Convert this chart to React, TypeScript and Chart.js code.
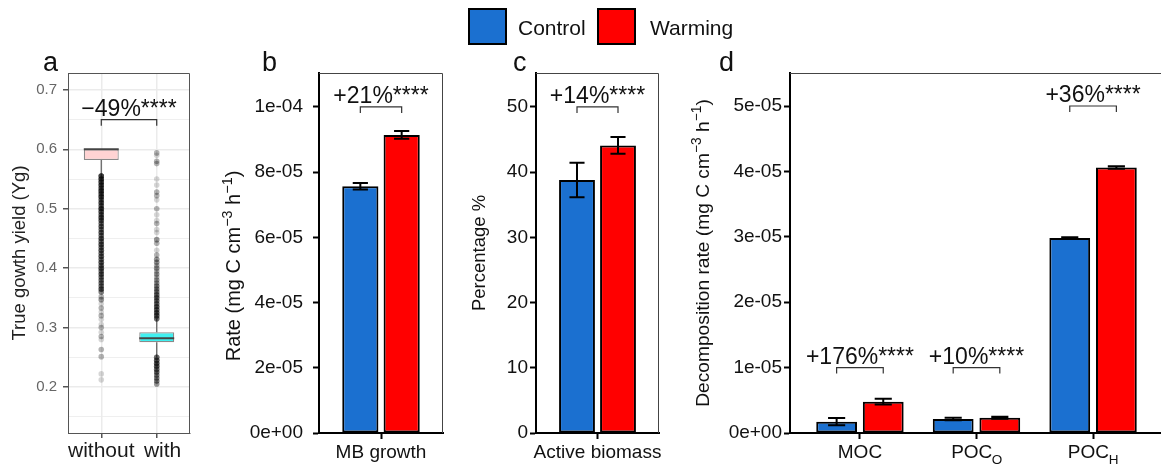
import React, { useEffect, useRef } from 'react';
import { Chart, registerables } from 'chart.js';

Chart.register(...registerables);

const FONT = "'Liberation Sans', Arial, Helvetica, sans-serif";
const BLUE = '#1b70d0';
const RED = '#ff0000';
const TICK_SIZE = 19;

// ---------------- data ----------------
const seriesNames = ['Control', 'Warming'];

// panel a (box plot of true growth yield)
const aCategories = ['without', 'with'];
const aBoxLow = [0.582, 0.2754];
const aBoxHigh = [0.6, 0.2922];
const aMedian = [0.6, 0.2821];
const aWhiskerLow = [0.555, 0.25];
const aWhiskerHigh = [0.6, 0.315];
// outliers: [value, number of overlapping points]
const aOutliersWithout: [number, number][] = [
  [0.555, 8], [0.55, 8], [0.545, 8], [0.54, 8], [0.535, 7], [0.53, 8], [0.525, 7], [0.52, 8],
  [0.515, 6], [0.51, 7], [0.505, 6], [0.5, 8], [0.495, 7], [0.49, 6], [0.485, 7], [0.48, 6],
  [0.475, 5], [0.47, 6], [0.465, 5], [0.46, 6], [0.455, 5], [0.45, 6], [0.445, 5], [0.44, 6],
  [0.435, 5], [0.43, 6], [0.425, 5], [0.42, 6], [0.415, 5], [0.41, 6], [0.405, 5], [0.4, 6],
  [0.395, 5], [0.39, 6], [0.385, 5], [0.38, 5], [0.375, 5], [0.37, 5], [0.365, 6], [0.36, 4],
  [0.352, 2], [0.347, 3], [0.34, 1], [0.333, 2], [0.326, 1], [0.32, 2], [0.314, 1], [0.305, 1],
  [0.3, 2], [0.292, 1], [0.285, 2], [0.28, 1], [0.263, 2], [0.251, 2], [0.222, 1], [0.212, 1],
];
const aOutliersWith: [number, number][] = [
  [0.594, 2], [0.59, 1], [0.58, 2], [0.576, 2], [0.55, 1], [0.54, 1], [0.528, 2], [0.522, 2],
  [0.515, 1], [0.5, 2], [0.49, 1], [0.48, 1], [0.475, 2], [0.465, 1], [0.46, 1], [0.448, 3],
  [0.442, 2], [0.43, 1], [0.422, 2], [0.415, 3], [0.41, 3], [0.405, 2], [0.4, 3], [0.395, 2],
  [0.39, 3], [0.385, 2], [0.38, 3], [0.375, 3], [0.37, 4], [0.365, 4], [0.36, 4], [0.355, 5],
  [0.35, 5], [0.345, 5], [0.34, 5], [0.335, 6], [0.33, 6], [0.325, 6], [0.32, 6], [0.315, 5],
  [0.25, 5], [0.245, 6], [0.24, 6], [0.235, 6], [0.23, 5], [0.225, 5], [0.22, 4], [0.215, 4],
  [0.21, 4], [0.205, 3],
];
const aYTicks = [0.2, 0.3, 0.4, 0.5, 0.6, 0.7];
const aYTickLabels = ['0.2', '0.3', '0.4', '0.5', '0.6', '0.7'];
const aYMinorTicks = [0.15, 0.25, 0.35, 0.45, 0.55, 0.65];
const aAnnotation = '\u221249%****';
const aBracketY = 0.65;

// panel b
const bCategories = ['MB growth'];
const bControl = [7.57e-5];
const bControlErr = [1.0e-6];
const bWarming = [9.14e-5];
const bWarmingErr = [1.2e-6];
const bYTicks = [0, 2e-5, 4e-5, 6e-5, 8e-5, 1e-4];
const bYTickLabels = ['0e+00', '2e-05', '4e-05', '6e-05', '8e-05', '1e-04'];
const bAnnotations = ['+21%****'];
const bBracketY = [1e-4];

// panel c
const cCategories = ['Active biomass'];
const cControl = [38.8];
const cControlErr = [2.65];
const cWarming = [44.1];
const cWarmingErr = [1.27];
const cYTicks = [0, 10, 20, 30, 40, 50];
const cYTickLabels = ['0', '10', '20', '30', '40', '50'];
const cAnnotations = ['+14%****'];
const cBracketY = [50];

// panel d
const dCategories = ['MOC', 'POC', 'POC'];
const dSubscripts = ['', 'O', 'H'];
const dControl = [1.73e-6, 2.14e-6, 2.98e-5];
const dControlErr = [0.55e-6, 0.2e-6, 0.12e-6];
const dWarming = [4.79e-6, 2.34e-6, 4.06e-5];
const dWarmingErr = [0.45e-6, 0.15e-6, 0.2e-6];
const dYTicks = [0, 1e-5, 2e-5, 3e-5, 4e-5, 5e-5];
const dYTickLabels = ['0e+00', '1e-05', '2e-05', '3e-05', '4e-05', '5e-05'];
const dAnnotations = ['+176%****', '+10%****', '+36%****'];
const dBracketY = [1e-5, 1e-5, 5e-5];

// axis titles with superscripts: [text, isSuperscript]
const rateUnitParts: [string, boolean][] = [
  [' (mg C cm', false],
  ['\u22123', true],
  [' h', false],
  ['\u22121', true],
  [')', false],
];

// ---------------- helpers ----------------
function drawBracket(ctx: CanvasRenderingContext2D, x0: number, x1: number, y: number, text: string) {
  ctx.save();
  ctx.strokeStyle = '#333';
  ctx.lineWidth = 1.2;
  ctx.beginPath();
  ctx.moveTo(x0, y + 6);
  ctx.lineTo(x0, y);
  ctx.lineTo(x1, y);
  ctx.lineTo(x1, y + 6);
  ctx.stroke();
  ctx.fillStyle = '#111';
  ctx.font = `23px ${FONT}`;
  ctx.textAlign = 'center';
  ctx.textBaseline = 'alphabetic';
  ctx.fillText(text, (x0 + x1) / 2, y - 4);
  ctx.restore();
}

function drawRichVertical(
  ctx: CanvasRenderingContext2D,
  cx: number,
  cy: number,
  parts: [string, boolean][],
  size: number
) {
  const sup = size * 0.72;
  ctx.save();
  ctx.translate(cx, cy);
  ctx.rotate(-Math.PI / 2);
  const widths = parts.map(([t, s]) => {
    ctx.font = `${s ? sup : size}px ${FONT}`;
    return ctx.measureText(t).width;
  });
  const total = widths.reduce((p, q) => p + q, 0);
  let x = -total / 2;
  const base = size * 0.36;
  ctx.fillStyle = '#111';
  ctx.textAlign = 'left';
  ctx.textBaseline = 'alphabetic';
  parts.forEach(([t, s], i) => {
    ctx.font = `${s ? sup : size}px ${FONT}`;
    ctx.fillText(t, x, s ? base - size * 0.42 : base);
    x += widths[i];
  });
  ctx.restore();
}

function frameLines(chart: any, color: string, width: number) {
  const { ctx, chartArea } = chart;
  ctx.save();
  ctx.strokeStyle = color;
  ctx.lineWidth = width;
  ctx.beginPath();
  ctx.moveTo(chartArea.left, chartArea.top + 0.5);
  ctx.lineTo(chartArea.right - 0.5, chartArea.top + 0.5);
  ctx.lineTo(chartArea.right - 0.5, chartArea.bottom);
  ctx.stroke();
  ctx.restore();
}

function isMajorA(v: number) {
  return aYTicks.some((t) => Math.abs(t - v) < 1e-9);
}

function makeA(canvas: HTMLCanvasElement) {
  const points: { x: number; y: number }[] = [];
  aOutliersWithout.forEach(([v, n]) => {
    for (let k = 0; k < n; k++) points.push({ x: 1, y: v });
  });
  aOutliersWith.forEach(([v, n]) => {
    for (let k = 0; k < n; k++) points.push({ x: 2, y: v });
  });
  const plugin = {
    id: 'boxExtras',
    beforeDatasetsDraw(chart: any) {
      const { ctx, scales } = chart;
      ctx.save();
      ctx.strokeStyle = '#666';
      ctx.lineWidth = 1.3;
      aCategories.forEach((_, i) => {
        const x = scales.x.getPixelForValue(i + 1);
        ctx.beginPath();
        ctx.moveTo(x, scales.y.getPixelForValue(aWhiskerLow[i]));
        ctx.lineTo(x, scales.y.getPixelForValue(aBoxLow[i]));
        ctx.moveTo(x, scales.y.getPixelForValue(aBoxHigh[i]));
        ctx.lineTo(x, scales.y.getPixelForValue(aWhiskerHigh[i]));
        ctx.stroke();
      });
      ctx.restore();
    },
    afterDatasetsDraw(chart: any) {
      const { ctx, scales } = chart;
      const meta = chart.getDatasetMeta(0);
      ctx.save();
      ctx.strokeStyle = '#444';
      ctx.lineWidth = 2;
      meta.data.forEach((el: any, i: number) => {
        const y = scales.y.getPixelForValue(aMedian[i]);
        ctx.beginPath();
        ctx.moveTo(el.x - el.width / 2, y);
        ctx.lineTo(el.x + el.width / 2, y);
        ctx.stroke();
      });
      ctx.restore();
      frameLines(chart, '#555', 1);
      drawBracket(
        ctx,
        scales.x.getPixelForValue(1),
        scales.x.getPixelForValue(2),
        scales.y.getPixelForValue(aBracketY),
        aAnnotation
      );
    },
  };
  return new Chart(canvas, {
    type: 'bar',
    data: {
      datasets: [
        {
          type: 'bar',
          data: aCategories.map((_, i) => ({ x: i + 1, y: [aBoxLow[i], aBoxHigh[i]] })) as any,
          backgroundColor: ['#ffd3d3', '#40f0f0'],
          borderColor: '#8a8a8a',
          borderWidth: 1.2,
          borderSkipped: false,
          categoryPercentage: 0.63,
          barPercentage: 1,
          order: 2,
        } as any,
        {
          type: 'scatter',
          data: points,
          pointRadius: 2.8,
          pointBackgroundColor: 'rgba(0,0,0,0.16)',
          pointBorderWidth: 0,
          order: 1,
        } as any,
      ],
    },
    options: {
      animation: false,
      responsive: false,
      devicePixelRatio: 1,
      layout: { padding: { left: 0, top: 73, right: 10, bottom: 0 } },
      plugins: { legend: { display: false }, tooltip: { enabled: false } },
      scales: {
        x: {
          type: 'linear',
          min: 0.4,
          max: 2.6,
          offset: false,
          afterBuildTicks: (s: any) => {
            s.ticks = aCategories.map((_, i) => ({ value: i + 1 }));
          },
          afterFit: (s: any) => {
            s.height = 34;
          },
          ticks: {
            callback: (v: any) => {
              const i = Math.round(v) - 1;
              return i === 1 ? '  ' + aCategories[i] : aCategories[i] ?? '';
            },
            font: { family: FONT, size: 21 },
            color: '#1a1a1a',
            padding: 1,
            maxRotation: 0,
            autoSkip: false,
          },
          grid: { offset: false, color: '#ebebeb', lineWidth: 1.5, tickColor: '#555', tickLength: 5 },
          border: { color: '#555', width: 1 },
        },
        y: {
          type: 'linear',
          min: 0.1225,
          max: 0.7285,
          afterBuildTicks: (s: any) => {
            s.ticks = [...aYTicks, ...aYMinorTicks].sort((p, q) => p - q).map((v) => ({ value: v }));
          },
          afterFit: (s: any) => {
            s.width = 68;
          },
          ticks: {
            callback: (v: any) => {
              const i = aYTicks.findIndex((t) => Math.abs(t - v) < 1e-9);
              return i >= 0 ? aYTickLabels[i] : '';
            },
            font: { family: FONT, size: 15 },
            color: '#666',
            padding: 6,
            autoSkip: false,
          },
          grid: {
            color: '#ebebeb',
            lineWidth: (c: any) => (isMajorA(c.tick.value) ? 1.5 : 0.8),
            tickColor: (c: any) => (isMajorA(c.tick.value) ? '#555' : 'rgba(0,0,0,0)'),
            tickLength: 5,
          },
          border: { color: '#555', width: 1 },
          title: {
            display: true,
            text: 'True gowth yield (Yg)',
            font: { family: FONT, size: 18.5, lineHeight: 1.2 },
            color: '#222',
            padding: { top: 9, bottom: 0 },
          },
        },
      },
    } as any,
    plugins: [plugin],
  });
}

interface BarCfg {
  categories: string[];
  subscripts?: string[];
  control: number[];
  controlErr: number[];
  warming: number[];
  warmingErr: number[];
  yMax: number;
  yTicks: number[];
  yTickLabels: string[];
  yTitle?: string;
  yTitleParts?: [string, boolean][];
  yTitleSize?: number;
  yTitleX?: number;
  yTitleY?: number;
  yWidth: number;
  tickPad: number;
  titlePad: number;
  padRight: number;
  catPct: number;
  annotations: string[];
  bracketY: number[];
}

function makeBars(canvas: HTMLCanvasElement, cfg: BarCfg) {
  const n = cfg.categories.length;
  const errs = [cfg.controlErr, cfg.warmingErr];
  const subSize = 13.5;
  const plugin = {
    id: 'barExtras',
    afterDatasetsDraw(chart: any) {
      const { ctx, scales } = chart;
      ctx.save();
      ctx.strokeStyle = '#000';
      ctx.lineWidth = 2;
      errs.forEach((arr, di) => {
        const meta = chart.getDatasetMeta(di);
        const vals = di === 0 ? cfg.control : cfg.warming;
        meta.data.forEach((el: any, j: number) => {
          const x = el.x;
          const yt = scales.y.getPixelForValue(vals[j] + arr[j]);
          const yb = scales.y.getPixelForValue(vals[j] - arr[j]);
          const cw = el.width * 0.42;
          ctx.beginPath();
          ctx.moveTo(x, yt);
          ctx.lineTo(x, yb);
          ctx.moveTo(x - cw / 2, yt);
          ctx.lineTo(x + cw / 2, yt);
          ctx.moveTo(x - cw / 2, yb);
          ctx.lineTo(x + cw / 2, yb);
          ctx.stroke();
        });
      });
      ctx.restore();
      frameLines(chart, '#444', 1);
      const m0 = chart.getDatasetMeta(0);
      const m1 = chart.getDatasetMeta(1);
      cfg.annotations.forEach((t, j) => {
        drawBracket(ctx, m0.data[j].x, m1.data[j].x, scales.y.getPixelForValue(cfg.bracketY[j]), t);
      });
    },
    afterDraw(chart: any) {
      const { ctx, scales, chartArea } = chart;
      if (cfg.yTitleParts) {
        drawRichVertical(
          ctx,
          cfg.yTitleX ?? 20,
          cfg.yTitleY ?? (chartArea.top + chartArea.bottom) / 2,
          cfg.yTitleParts,
          cfg.yTitleSize ?? 18.5
        );
      }
      if (!cfg.subscripts) return;
      ctx.save();
      ctx.fillStyle = '#111';
      cfg.subscripts.forEach((s, j) => {
        if (!s) return;
        ctx.font = `${TICK_SIZE}px ${FONT}`;
        const w = ctx.measureText(cfg.categories[j]).width;
        ctx.font = `${subSize}px ${FONT}`;
        const ws = ctx.measureText(s).width;
        const x = scales.x.getPixelForValue(j + 1) - (w + ws) / 2 + w;
        ctx.textAlign = 'left';
        ctx.textBaseline = 'alphabetic';
        ctx.fillText(s, x, chartArea.bottom + 31);
      });
      ctx.restore();
    },
  };
  const mk = (vals: number[], label: string, color: string) => ({
    label,
    data: vals.map((v, i) => ({ x: i + 1, y: v })),
    backgroundColor: color,
    borderColor: '#000',
    borderWidth: 2,
    borderSkipped: false,
    categoryPercentage: cfg.catPct,
    barPercentage: 0.875,
  });
  return new Chart(canvas, {
    type: 'bar',
    data: {
      datasets: [mk(cfg.control, seriesNames[0], BLUE), mk(cfg.warming, seriesNames[1], RED)] as any,
    },
    options: {
      animation: false,
      responsive: false,
      devicePixelRatio: 1,
      layout: { padding: { left: 0, top: 73, right: cfg.padRight, bottom: 0 } },
      plugins: { legend: { display: false }, tooltip: { enabled: false } },
      scales: {
        x: {
          type: 'linear',
          min: 0.4,
          max: n + 0.6,
          offset: false,
          afterBuildTicks: (s: any) => {
            s.ticks = cfg.categories.map((_, i) => ({ value: i + 1 }));
          },
          afterFit: (s: any) => {
            s.height = 34;
          },
          ticks: {
            callback: (v: any) => {
              const i = Math.round(v) - 1;
              const sub = cfg.subscripts && cfg.subscripts[i];
              return (cfg.categories[i] ?? '') + (sub ? '\u2002' : '');
            },
            font: { family: FONT, size: TICK_SIZE },
            color: '#111',
            padding: 2,
            maxRotation: 0,
            autoSkip: false,
          },
          grid: { offset: false, drawOnChartArea: false, color: '#000', tickColor: '#000', tickWidth: 2, tickLength: 6 },
          border: { color: '#000', width: 2 },
        },
        y: {
          type: 'linear',
          min: 0,
          max: cfg.yMax,
          afterBuildTicks: (s: any) => {
            s.ticks = cfg.yTicks.map((v) => ({ value: v }));
          },
          afterFit: (s: any) => {
            s.width = cfg.yWidth;
          },
          ticks: {
            callback: (v: any, i: number) => cfg.yTickLabels[i] ?? '',
            font: { family: FONT, size: TICK_SIZE },
            color: '#111',
            padding: cfg.tickPad,
            autoSkip: false,
          },
          grid: { drawOnChartArea: false, color: '#000', tickColor: '#000', tickWidth: 2, tickLength: 6 },
          border: { color: '#000', width: 2 },
          title: {
            display: !!cfg.yTitle,
            text: cfg.yTitle ?? '',
            font: { family: FONT, size: 18.5, lineHeight: 1.2 },
            color: '#111',
            padding: { top: cfg.titlePad, bottom: 0 },
          },
        },
      },
    } as any,
    plugins: [plugin],
  });
}

const canvasStyle = (left: number, width: number): React.CSSProperties => ({
  position: 'absolute',
  left,
  top: 0,
  width,
  height: 467,
});

export default function App() {
  const aRef = useRef<HTMLCanvasElement>(null);
  const bRef = useRef<HTMLCanvasElement>(null);
  const cRef = useRef<HTMLCanvasElement>(null);
  const dRef = useRef<HTMLCanvasElement>(null);

  useEffect(() => {
    const charts: Chart[] = [];
    if (aRef.current) charts.push(makeA(aRef.current));
    if (bRef.current)
      charts.push(
        makeBars(bRef.current, {
          categories: bCategories,
          control: bControl,
          controlErr: bControlErr,
          warming: bWarming,
          warmingErr: bWarmingErr,
          yMax: 1.104e-4,
          yTicks: bYTicks,
          yTickLabels: bYTickLabels,
          yTitleParts: [['Rate', false], ...rateUnitParts],
          yTitleSize: 20,
          yTitleX: 28,
          yTitleY: 266,
          yWidth: 114,
          tickPad: 10,
          titlePad: 17,
          padRight: 12,
          catPct: 0.6667,
          annotations: bAnnotations,
          bracketY: bBracketY,
        })
      );
    if (cRef.current)
      charts.push(
        makeBars(cRef.current, {
          categories: cCategories,
          control: cControl,
          controlErr: cControlErr,
          warming: cWarming,
          warmingErr: cWarmingErr,
          yMax: 55.2,
          yTicks: cYTicks,
          yTickLabels: cYTickLabels,
          yTitle: 'Percentage %',
          yWidth: 76,
          tickPad: 2,
          titlePad: 9,
          padRight: 11,
          catPct: 0.6667,
          annotations: cAnnotations,
          bracketY: cBracketY,
        })
      );
    if (dRef.current)
      charts.push(
        makeBars(dRef.current, {
          categories: dCategories,
          subscripts: dSubscripts,
          control: dControl,
          controlErr: dControlErr,
          warming: dWarming,
          warmingErr: dWarmingErr,
          yMax: 5.505e-5,
          yTicks: dYTicks,
          yTickLabels: dYTickLabels,
          yTitleParts: [['Decomposition rate', false], ...rateUnitParts],
          yTitleSize: 19.2,
          yTitleX: 22,
          yWidth: 110,
          tickPad: 2,
          titlePad: 11,
          padRight: 7,
          catPct: 0.8,
          annotations: dAnnotations,
          bracketY: dBracketY,
        })
      );
    return () => charts.forEach((c) => c.destroy());
  }, []);

  const letter = (t: string, left: number): React.ReactNode => (
    <div
      style={{
        position: 'absolute',
        left,
        top: 49,
        fontFamily: FONT,
        fontSize: 27,
        lineHeight: '27px',
        color: '#111',
      }}
    >
      {t}
    </div>
  );

  const legendBox = (left: number, color: string): React.ReactNode => (
    <div
      style={{
        position: 'absolute',
        left,
        top: 8,
        width: 39,
        height: 37,
        boxSizing: 'border-box',
        border: '2px solid #000',
        background: color,
      }}
    />
  );
  const legendText = (t: string, left: number): React.ReactNode => (
    <div
      style={{
        position: 'absolute',
        left,
        top: 17,
        fontFamily: FONT,
        fontSize: 21,
        lineHeight: '21px',
        color: '#111',
        whiteSpace: 'nowrap',
      }}
    >
      {t}
    </div>
  );

  return (
    <div
      style={{
        position: 'fixed',
        left: 0,
        top: 0,
        width: 1161,
        height: 467,
        overflow: 'hidden',
        background: '#fff',
      }}
    >
      <canvas ref={aRef} width={200} height={467} style={canvasStyle(0, 200)} />
      <canvas ref={bRef} width={250} height={467} style={canvasStyle(205, 250)} />
      <canvas ref={cRef} width={210} height={467} style={canvasStyle(460, 210)} />
      <canvas ref={dRef} width={490} height={467} style={canvasStyle(680, 490)} />
      {letter('a', 43)}
      {letter('b', 262)}
      {letter('c', 513)}
      {letter('d', 719)}
      {legendBox(468, BLUE)}
      {legendText(seriesNames[0], 518)}
      {legendBox(597, RED)}
      {legendText(seriesNames[1], 650)}
    </div>
  );
}
